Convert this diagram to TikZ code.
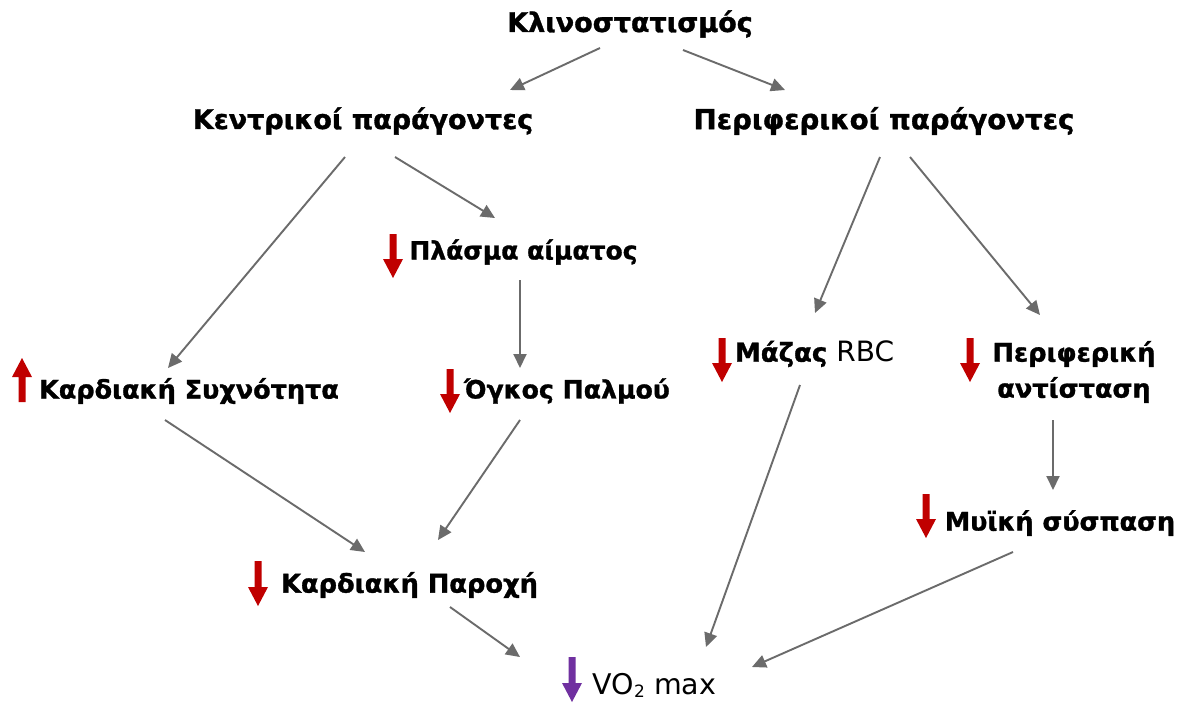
\documentclass[tikz,border=0pt]{standalone}
\usepackage{fontspec}
\setmainfont{DejaVu Sans}[BoldFeatures={FakeBold=1.2}]
\usetikzlibrary{arrows.meta}
\definecolor{dnred}{HTML}{C00000}
\definecolor{dnpurple}{HTML}{7030A0}
\definecolor{conngray}{HTML}{6B6B6B}
\newcommand\dnarr[4]{\fill[#4] ({#1-3.5},#2) -- ({#1+3.5},#2) -- ({#1+3.5},{#3-19}) -- ({#1+10},{#3-19}) -- (#1,#3) -- ({#1-10},{#3-19}) -- ({#1-3.5},{#3-19}) -- cycle;}
\newcommand\uparr[4]{\fill[#4] ({#1-3.5},#3) -- ({#1+3.5},#3) -- ({#1+3.5},{#2+19}) -- ({#1+10},{#2+19}) -- (#1,#2) -- ({#1-10},{#2+19}) -- ({#1-3.5},{#2+19}) -- cycle;}
\tikzset{
  lbl/.style={inner sep=0pt, font=\fontsize{#1}{36}\selectfont\bfseries},
  lbl/.default=27,
  plain/.style={inner sep=0pt, font=\fontsize{28.5}{36}\selectfont},
  conn/.style={draw=conngray, line width=1.9pt, -{Triangle[length=14pt,width=13pt]}},
}
\begin{document}
\begin{tikzpicture}[x=1pt,y=-1pt]
\useasboundingbox (0,0) rectangle (1184,702);
\fill[white] (0,0) rectangle (1184,702);
\node[lbl] (klino) at (630,24) {Κλινοστατισμός};
\node[lbl] (kentr) at (363,121) {Κεντρικοί παράγοντες};
\node[lbl=27.6] (perif) at (884,121) {Περιφερικοί παράγοντες};
\node[lbl=25] (plasma) at (523.5,252) {Πλάσμα αίματος};
\node[lbl=25.5] (kardsyx) at (189,391) {Καρδιακή Συχνότητα};
\node[lbl=25.2] (ogkos) at (567,391) {Όγκος Παλμού};
\node[lbl=26] (mazas) at (814.5,354) {Μάζας {\mdseries\fontsize{28}{36}\selectfont RBC}};
\node[lbl=25.6, align=center] (antist) at (1074,372) {Περιφερική\\αντίσταση};
\node[lbl=25.5] (myiki) at (1060,523) {Μυϊκή σύσπαση};
\node[lbl=25.7] (parox) at (409.5,585) {Καρδιακή Παροχή};
\node[plain, anchor=base] (vo2) at (654.5,694) {VO\raisebox{-0.12em}{\fontsize{17}{17}\selectfont 2} max};
% red / purple indicator arrows
\uparr{22}{358}{402}{dnred}
\dnarr{393}{234}{278}{dnred}
\dnarr{450}{369}{413}{dnred}
\dnarr{722}{338}{382}{dnred}
\dnarr{970}{338}{382}{dnred}
\dnarr{926}{494}{538}{dnred}
\dnarr{258}{561}{606}{dnred}
\dnarr{572}{657}{702}{dnpurple}
% connectors
\draw[conn] ([shift={(-30,24)}]klino.center) -- ([shift={(147,-31)}]kentr.center);
\draw[conn] ([shift={(53,26)}]klino.center) -- ([shift={(-99,-31)}]perif.center);
\draw[conn] ([shift={(-18,36)}]kentr.center) -- ([shift={(-21,-23)}]kardsyx.center);
\draw[conn] ([shift={(32,36)}]kentr.center) -- ([shift={(-28.5,-34)}]plasma.center);
\draw[conn] ([shift={(-3.5,28)}]plasma.center) -- ([shift={(-47,-23)}]ogkos.center);
\draw[conn] ([shift={(-4,36)}]perif.center) -- ([shift={(0.5,-41)}]mazas.center);
\draw[conn] ([shift={(26,36)}]perif.center) -- ([shift={(-34,-57)}]antist.center);
\draw[conn] ([shift={(-21,48)}]antist.center) -- ([shift={(-7,-33)}]myiki.center);
\draw[conn] ([shift={(-24,29)}]kardsyx.center) -- ([shift={(-44.5,-33)}]parox.center);
\draw[conn] ([shift={(-47,29)}]ogkos.center) -- ([shift={(28.5,-45)}]parox.center);
\draw[conn] ([shift={(-14.5,31)}]mazas.center) -- ([shift={(51.5,-47)}]vo2.base);
\draw[conn] ([shift={(40.5,22)}]parox.center) -- ([shift={(-134.5,-37)}]vo2.base);
\draw[conn] ([shift={(-47,29)}]myiki.center) -- ([shift={(97.5,-27)}]vo2.base);
\end{tikzpicture}
\end{document}
